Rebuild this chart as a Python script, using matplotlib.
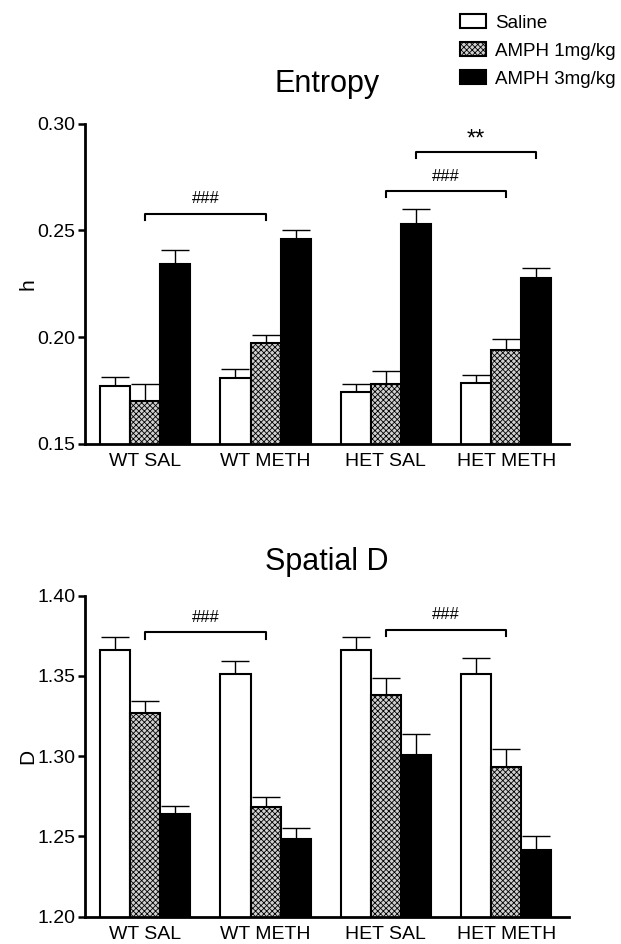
import matplotlib.pyplot as plt
import numpy as np

plt.rcParams['font.family'] = ['Liberation Sans', 'DejaVu Sans']
plt.rcParams['hatch.linewidth'] = 0.6
plt.rcParams['hatch.color'] = '#444444'

groups = ["WT SAL", "WT METH", "HET SAL", "HET METH"]
series = ["Saline", "AMPH 1mg/kg", "AMPH 3mg/kg"]

# Entropy (h)
h_saline = [0.1772, 0.1806, 0.1740, 0.1784]
h_amph1 = [0.1702, 0.1973, 0.1781, 0.1937]
h_amph3 = [0.2344, 0.2458, 0.2530, 0.2277]
h_saline_err = [0.0040, 0.0044, 0.0040, 0.0038]
h_amph1_err = [0.0078, 0.0038, 0.0058, 0.0053]
h_amph3_err = [0.0063, 0.0045, 0.0068, 0.0048]

# Spatial D
d_saline = [1.366, 1.351, 1.366, 1.351]
d_amph1 = [1.327, 1.2685, 1.338, 1.293]
d_amph3 = [1.264, 1.2486, 1.3007, 1.2414]
d_saline_err = [0.0083, 0.0081, 0.0085, 0.0104]
d_amph1_err = [0.0071, 0.0059, 0.0107, 0.0112]
d_amph3_err = [0.0050, 0.0065, 0.0131, 0.0091]

styles = [dict(facecolor='white', hatch=None),
          dict(facecolor='#d0d0d0', hatch='xxxxxx'),
          dict(facecolor='black', hatch=None)]

fig = plt.figure(figsize=(6.21, 9.44), dpi=100)
ax1 = fig.add_axes([0.137, 0.530, 0.779, 0.339])
ax2 = fig.add_axes([0.137, 0.029, 0.779, 0.340])

x = np.arange(len(groups))
width = 0.25


def draw(ax, vals, errs, ylim, yticks, fmt, ylabel, title, title_y):
    for i, (v, e) in enumerate(zip(vals, errs)):
        pos = x + (i - 1) * width
        ax.bar(pos, v, width, edgecolor='black', linewidth=1.5,
               label=series[i], zorder=2, **styles[i])
        ax.errorbar(pos, v, yerr=[np.zeros(len(e)), e], fmt='none',
                    ecolor='black', elinewidth=1, capsize=10, capthick=1,
                    zorder=1)
    ax.set_xlim(-0.5, 3.52)
    ax.set_ylim(*ylim)
    ax.set_yticks(yticks)
    ax.set_yticklabels([fmt.format(t) for t in yticks])
    ax.set_xticks(x)
    ax.set_xticklabels(groups)
    ax.tick_params(axis='x', length=0, labelsize=14, pad=7)
    ax.tick_params(axis='y', length=5, width=1.8, labelsize=14, pad=2)
    for s in ['top', 'right']:
        ax.spines[s].set_visible(False)
    for s in ['left', 'bottom']:
        ax.spines[s].set_linewidth(2)
    ax.set_ylabel(ylabel, fontsize=15, labelpad=0)
    ax.text(0.5, title_y, title, transform=ax.transAxes, ha='center',
            va='center', fontsize=22)


def bracket(ax, x0, x1, y, drop, text, ty, size=12):
    ax.plot([x0, x0, x1, x1], [y - drop, y, y, y - drop], color='black', lw=1.5)
    ax.text((x0 + x1) / 2, ty, text, ha='center', va='center', fontsize=size)


draw(ax1, [h_saline, h_amph1, h_amph3], [h_saline_err, h_amph1_err, h_amph3_err],
     (0.15, 0.30), [0.15, 0.20, 0.25, 0.30], '{:.2f}', 'h', 'Entropy', 1.125)
draw(ax2, [d_saline, d_amph1, d_amph3], [d_saline_err, d_amph1_err, d_amph3_err],
     (1.20, 1.40), [1.20, 1.25, 1.30, 1.35, 1.40], '{:.2f}', 'D', 'Spatial D', 1.105)

bracket(ax1, 0, 1, 0.2578, 0.003, '###', 0.2649)
bracket(ax1, 2, 3, 0.2686, 0.003, '###', 0.2753)
bracket(ax1, 2 + width, 3 + width, 0.2868, 0.003, '**', 0.2925, size=17)
bracket(ax2, 0, 1, 1.3772, 0.004, '###', 1.3865)
bracket(ax2, 2, 3, 1.3786, 0.004, '###', 1.3884)

handles, labels = ax1.get_legend_handles_labels()
fig.legend(handles, labels, loc='upper left', bbox_to_anchor=(0.723, 0.997),
           frameon=False, fontsize=13.5, handlelength=1.35, handleheight=0.8,
           labelspacing=0.55, handletextpad=0.5, borderaxespad=0.2)

fig.savefig('out.png', dpi=100)
